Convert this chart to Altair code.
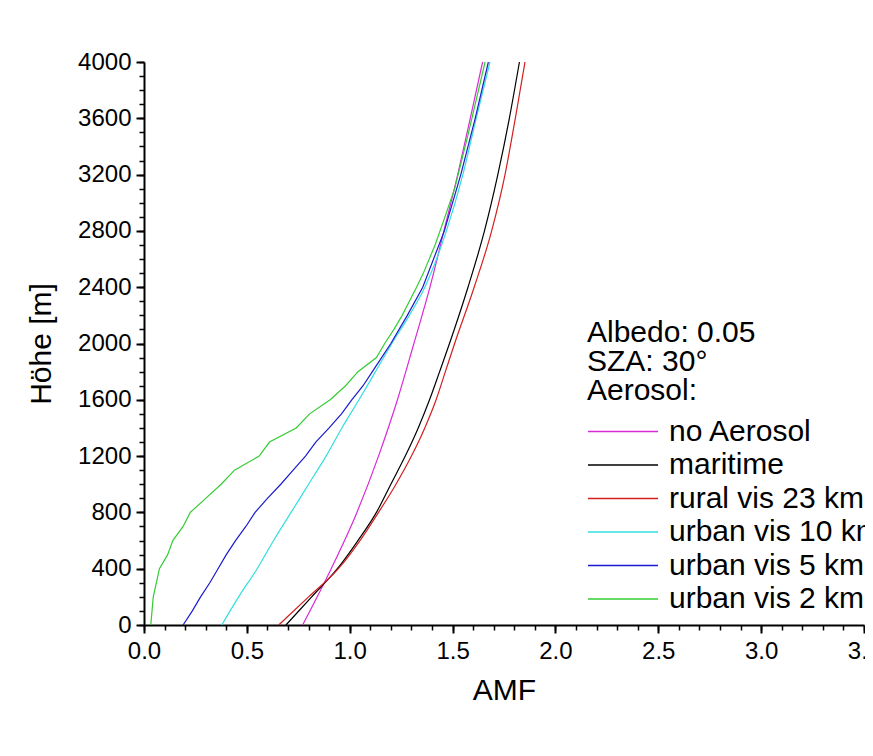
import altair as alt
import pandas as pd

FONT = "Liberation Sans"

series_names = ["no Aerosol", "maritime", "rural vis 23 km",
                "urban vis 10 km", "urban vis 5 km", "urban vis 2 km"]
series_colors = ["#d92ad9", "#000000", "#d41f1f", "#33dede", "#1a1ad0", "#33cc33"]
smooth_series = ["no Aerosol", "maritime", "rural vis 23 km", "urban vis 10 km"]

# no Aerosol
h_none = [0, 400, 800, 1200, 1600, 2000, 2400, 2800, 3200, 3600, 4000]
amf_none = [0.771, 0.91, 1.035, 1.14, 1.232, 1.312, 1.39, 1.458, 1.525, 1.586, 1.646]

# maritime
h_mar = [0, 200, 400, 600, 800, 1000, 1200, 1400, 1600, 1800, 2000, 2400, 2800, 3200, 3600, 4000]
amf_mar = [0.69, 0.815, 0.94, 1.04, 1.13, 1.20, 1.27, 1.333, 1.388, 1.437, 1.485, 1.575, 1.655, 1.72, 1.776, 1.825]

# rural vis 23 km
h_rur = [0, 200, 400, 600, 800, 1000, 1200, 1400, 1600, 1800, 2000, 2400, 2800, 3200, 3600, 4000]
amf_rur = [0.655, 0.80, 0.945, 1.05, 1.14, 1.225, 1.30, 1.365, 1.42, 1.465, 1.51, 1.605, 1.69, 1.755, 1.805, 1.852]

# urban vis 10 km
h_u10 = [0, 200, 400, 600, 800, 1000, 1200, 1400, 1600, 1800, 2000, 2200, 2400, 2800, 3200, 3600, 4000]
amf_u10 = [0.378, 0.46, 0.55, 0.63, 0.715, 0.80, 0.885, 0.962, 1.045, 1.125, 1.205, 1.29, 1.365, 1.47, 1.55, 1.615, 1.682]

# urban vis 5 km
h_u5 = [0, 100, 200, 300, 400, 500, 600, 700, 800, 900, 1000, 1100, 1200, 1300, 1400, 1500,
        1600, 1700, 1800, 1900, 2000, 2200, 2400, 2800, 3200, 3600, 4000]
amf_u5 = [0.19, 0.235, 0.275, 0.32, 0.36, 0.40, 0.445, 0.495, 0.54, 0.60, 0.665, 0.725, 0.785,
          0.835, 0.90, 0.96, 1.01, 1.065, 1.11, 1.155, 1.20, 1.28, 1.355, 1.46, 1.54, 1.61, 1.674]

# urban vis 2 km
h_u2 = [0, 200, 300, 400, 500, 600, 700, 800, 900, 1000, 1100, 1200, 1300, 1400, 1500, 1600,
        1700, 1800, 1900, 2000, 2100, 2200, 2300, 2400, 2500, 2700, 2900, 3100, 3500, 4000]
amf_u2 = [0.033, 0.045, 0.06, 0.075, 0.115, 0.14, 0.19, 0.225, 0.30, 0.375, 0.44, 0.56, 0.61,
          0.74, 0.805, 0.905, 0.98, 1.04, 1.13, 1.17, 1.215, 1.255, 1.29, 1.325, 1.358, 1.415,
          1.463, 1.51, 1.578, 1.658]

x_major = [0.0, 0.5, 1.0, 1.5, 2.0, 2.5, 3.0, 3.5]
x_minor = [i / 10 for i in range(0, 36)]
y_major = list(range(0, 4001, 400))
y_minor = list(range(0, 4001, 100))

all_h = [h_none, h_mar, h_rur, h_u10, h_u5, h_u2]
all_amf = [amf_none, amf_mar, amf_rur, amf_u10, amf_u5, amf_u2]
rows = []
for name, hs, xs in zip(series_names, all_h, all_amf):
    for h, a in zip(hs, xs):
        rows.append({"series": name, "height": h, "amf": a})
df = pd.DataFrame(rows)
df_smooth = df[df["series"].isin(smooth_series)]
df_rough = df[~df["series"].isin(smooth_series)]

xscale = alt.Scale(domain=[0, 3.5], nice=False, zero=False)
yscale = alt.Scale(domain=[0, 4000], nice=False, zero=False)

x_major_axis = alt.Axis(orient="bottom", title="AMF", values=x_major, format=".1f",
                        tickSize=8, tickWidth=2, domainWidth=2, domainColor="black",
                        tickColor="black", labelFontSize=24, labelFont=FONT,
                        labelColor="black", titleFont=FONT, titleFontSize=30,
                        titleFontWeight="normal", titleColor="black", titlePadding=12,
                        labelPadding=6, grid=False, labelFlush=False, labelOverlap=False)
y_major_axis = alt.Axis(orient="left", title="Höhe [m]", values=y_major, format="d",
                        tickSize=8, tickWidth=2, domainWidth=2, domainColor="black",
                        tickColor="black", labelFontSize=24, labelFont=FONT,
                        labelColor="black", titleFont=FONT, titleFontSize=30,
                        titleFontWeight="normal", titleColor="black", titlePadding=21,
                        labelPadding=5, grid=False, labelFlush=False, labelOverlap=False)

legend = alt.Legend(orient="none", legendX=443, legendY=256,
                    title=["Albedo: 0.05", "SZA: 30°", "Aerosol:"],
                    titleFont=FONT, titleFontSize=30, titleFontWeight="normal",
                    titleColor="black", titleLineHeight=29,
                    titleAlign="left", titleAnchor="start", titlePadding=10,
                    symbolType="stroke", symbolSize=4900, symbolStrokeWidth=1.3,
                    clipHeight=31, rowPadding=2.5, labelFont=FONT,
                    labelFontSize=30, labelColor="black", labelOffset=10,
                    labelLimit=400, padding=0)

color = alt.Color("series:N", scale=alt.Scale(domain=series_names, range=series_colors),
                  legend=legend)

smooth = alt.Chart(df_smooth).mark_line(strokeWidth=1.2, interpolate="monotone").encode(
    x=alt.X("amf:Q", scale=xscale, axis=x_major_axis),
    y=alt.Y("height:Q", scale=yscale, axis=y_major_axis),
    color=color,
    order=alt.Order("height:Q"),
)

rough = alt.Chart(df_rough).mark_line(strokeWidth=1.2).encode(
    x=alt.X("amf:Q", scale=xscale, axis=x_major_axis),
    y=alt.Y("height:Q", scale=yscale, axis=y_major_axis),
    color=color,
    order=alt.Order("height:Q"),
)

minor = alt.Chart(df).mark_line(opacity=0).encode(
    x=alt.X("amf:Q", scale=xscale,
            axis=alt.Axis(orient="bottom", title=None, labels=False, domain=False,
                          values=x_minor, tickSize=5, tickWidth=1.5, tickColor="black",
                          grid=False)),
    y=alt.Y("height:Q", scale=yscale,
            axis=alt.Axis(orient="left", title=None, labels=False, domain=False,
                          values=y_minor, tickSize=5, tickWidth=1.5, tickColor="black",
                          grid=False)),
    detail="series:N",
    order=alt.Order("height:Q"),
)

major = alt.layer(smooth, rough)

chart = alt.layer(major, minor).resolve_axis(x="independent", y="independent").properties(
    width=720, height=563,
    autosize=alt.AutoSizeParams(type="none"),
    padding={"left": 136, "top": 54, "right": 1, "bottom": 90},
    background="white",
).configure_view(stroke=None)

chart.save("out.html", embed_options={"renderer": "svg", "actions": False})
